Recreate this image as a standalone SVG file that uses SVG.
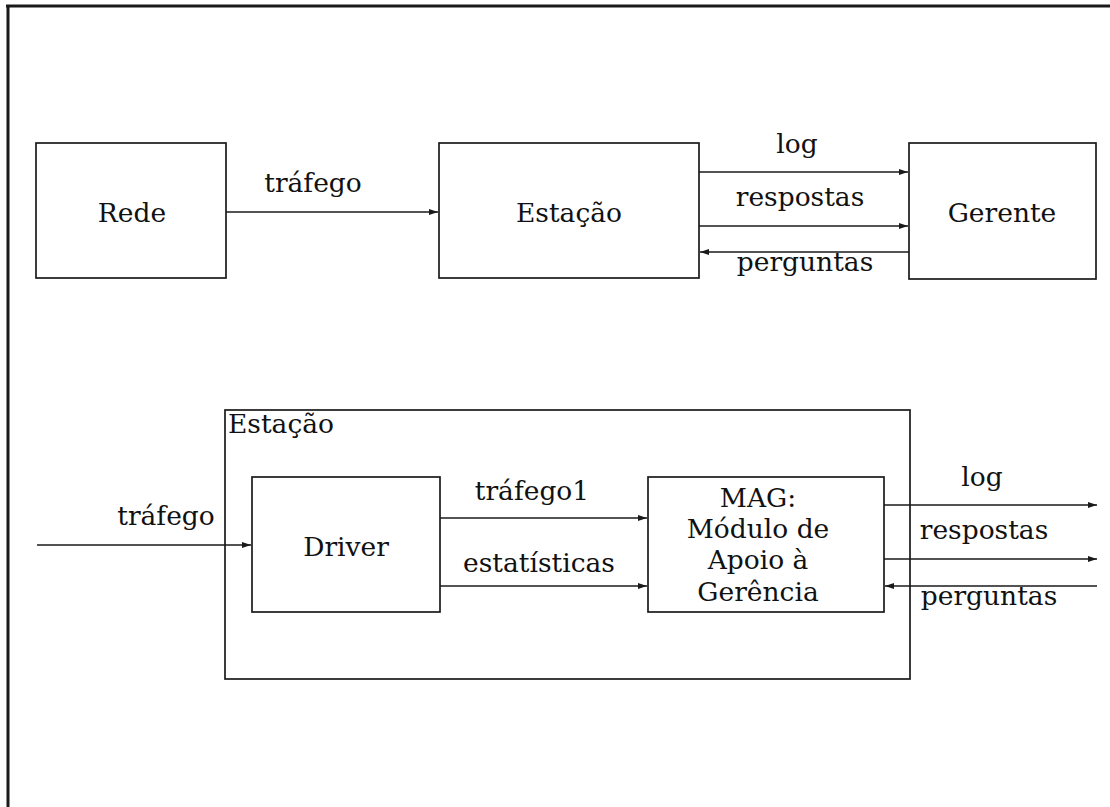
<svg xmlns="http://www.w3.org/2000/svg" width="1110" height="807" viewBox="0 0 1110 807">
<style>
.box{fill:none;stroke:#1a1a1a;stroke-width:1.7}
.ln{fill:none;stroke:#1a1a1a;stroke-width:1.7}
text{font-family:'DejaVu Serif','Liberation Serif',serif;font-size:26.5px;fill:#111;text-anchor:middle}
.st{text-anchor:start}
</style>
<defs>
<marker id="ah" markerWidth="10" markerHeight="8" refX="9" refY="4" orient="auto" markerUnits="userSpaceOnUse">
<path d="M0,1 L9,4 L0,7 Z" fill="#1a1a1a"/>
</marker>
</defs>
<rect width="1110" height="807" fill="#fff"/>
<g id="frame">
<line x1="6" y1="6" x2="1110" y2="6" stroke="#1a1a1a" stroke-width="3"/>
<line x1="8" y1="6" x2="8" y2="807" stroke="#1a1a1a" stroke-width="3"/>
</g>
<g id="rede"><rect class="box" x="36" y="143" width="190" height="135"/><text x="132" y="222">Rede</text></g>
<g id="estacao"><rect class="box" x="439" y="143" width="260" height="135"/><text x="569" y="222">Estação</text></g>
<g id="gerente"><rect class="box" x="909" y="143" width="187" height="136"/><text x="1002" y="222">Gerente</text></g>
<g id="estacao2"><rect class="box" x="225" y="410" width="685" height="269"/><text class="st" x="228" y="433">Estação</text></g>
<g id="driver"><rect class="box" x="252" y="477" width="188" height="135"/><text x="346" y="556">Driver</text></g>
<g id="mag"><rect class="box" x="648" y="477" width="236" height="135"/>
<text x="758" y="507">MAG:</text>
<text x="758" y="538">Módulo de</text>
<text x="758" y="569">Apoio à</text>
<text x="758" y="601">Gerência</text>
</g>
<g id="connectors">
<line class="ln" x1="226" y1="212" x2="438" y2="212" marker-end="url(#ah)"/>
<line class="ln" x1="699" y1="172" x2="908" y2="172" marker-end="url(#ah)"/>
<line class="ln" x1="699" y1="226" x2="908" y2="226" marker-end="url(#ah)"/>
<line class="ln" x1="909" y1="252" x2="700" y2="252" marker-end="url(#ah)"/>
<line class="ln" x1="37" y1="545" x2="251" y2="545" marker-end="url(#ah)"/>
<line class="ln" x1="440" y1="518" x2="647" y2="518" marker-end="url(#ah)"/>
<line class="ln" x1="440" y1="586" x2="647" y2="586" marker-end="url(#ah)"/>
<line class="ln" x1="884" y1="505" x2="1097" y2="505" marker-end="url(#ah)"/>
<line class="ln" x1="884" y1="559" x2="1097" y2="559" marker-end="url(#ah)"/>
<line class="ln" x1="1097" y1="586" x2="885" y2="586" marker-end="url(#ah)"/>
</g>
<g id="labels">
<text x="313" y="192">tráfego</text>
<text x="797" y="153">log</text>
<text x="800" y="206">respostas</text>
<text x="805" y="271">perguntas</text>
<text x="166" y="525">tráfego</text>
<text x="532" y="500">tráfego1</text>
<text x="539" y="572">estatísticas</text>
<text x="982" y="486">log</text>
<text x="984" y="539">respostas</text>
<text x="989" y="605">perguntas</text>
</g>
</svg>
